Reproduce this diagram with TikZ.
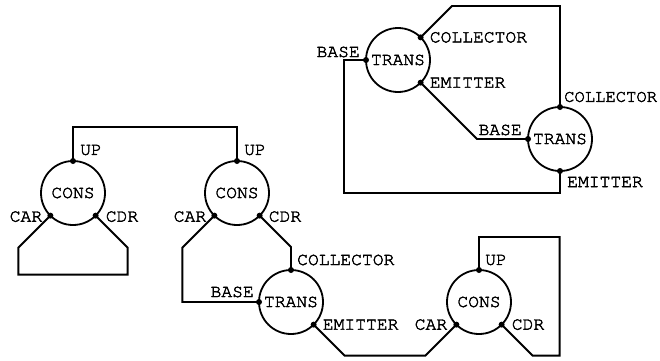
\documentclass[tikz,border=0pt]{standalone}
\usepackage{fontspec}
\setmainfont{TeX Gyre Cursor}[FakeBold=2.2]
\usetikzlibrary{calc}
\begin{document}
\begin{tikzpicture}[x=1pt,y=-1pt,
  every node/.style={font=\fontsize{18}{20}\selectfont},
  blob/.style={draw,circle,line width=1.8pt,minimum size=64pt,inner sep=0pt,outer sep=0pt},
  wire/.style={line width=1.8pt,line join=miter},
  lbl/.style={inner sep=0pt}]
\useasboundingbox (0,0) rectangle (660,360);
% circles
\node[blob] (A) at (73,193) {CONS};
\node[blob] (B) at (237,193) {CONS};
\node[blob] (C) at (291,302) {TRANS};
\node[blob] (D) at (479,302) {CONS};
\node[blob] (E) at (398,60) {TRANS};
\node[blob] (F) at (560,139) {TRANS};
% wires
\draw[wire] (A.north) -- ++(0,-34) -| (B.north);
\draw[wire] (A.-135) -- ++(-32,32) -- ++(0,27) -| ($(A.-45)+(32,32)$) -- (A.-45);
\draw[wire] (B.-135) -- ++(-32,32) |- (C.west);
\draw[wire] (B.-45) -- ($(C.north)+(0,-23)$) -- (C.north);
\draw[wire] (C.-45) -- ++(31,31) -- ($(D.-135)+(-31,31)$) -- (D.-135);
\draw[wire] (D.north) -- ++(0,-33) -| ($(D.-45)+(58,31)$) -- ++(-27,0) -- (D.-45);
\draw[wire] (E.45) -- ++(31.4,-31.4) -| (F.north);
\draw[wire] (E.-45) -- ++(56.4,56.4) -- (F.west);
\draw[wire] (F.south) -- ++(0,22) -| ($(E.west)+(-22,0)$) -- (E.west);
% port dots
\foreach \p in {A.north,A.-135,A.-45,B.north,B.-135,B.-45,C.north,C.west,C.-45,D.north,D.-135,D.-45,E.45,E.west,E.-45,F.north,F.west,F.south}
  \fill (\p) circle (3);
% labels
\node[lbl,anchor=west] (la1) at ($(A.north)+(7,-11)$) {UP};
\node[lbl,anchor=east] (la2) at ($(A.-135)+(-8,1)$) {CAR};
\node[lbl,anchor=west] (la3) at ($(A.-45)+(10,1)$) {CDR};
\node[lbl,anchor=west] (lb1) at ($(B.north)+(7,-11)$) {UP};
\node[lbl,anchor=east] (lb2) at ($(B.-135)+(-8,1)$) {CAR};
\node[lbl,anchor=west] (lb3) at ($(B.-45)+(9,1)$) {CDR};
\node[lbl,anchor=west] (lc1) at ($(C.north)+(6,-10)$) {COLLECTOR};
\node[lbl,anchor=east] (lc2) at ($(C.west)+(-5,-10)$) {BASE};
\node[lbl,anchor=west] (lc3) at ($(C.-45)+(9,0)$) {EMITTER};
\node[lbl,anchor=east] (ld2) at ($(D.-135)+(-9,0)$) {CAR};
\node[lbl,anchor=west] (ld3) at ($(D.-45)+(10,0)$) {CDR};
\node[lbl,anchor=west] (ld1) at ($(D.north)+(6,-10)$) {UP};
\node[lbl,anchor=west] (le1) at ($(E.45)+(9,0)$) {COLLECTOR};
\node[lbl,anchor=east] (le2) at ($(E.west)+(-6,-8)$) {BASE};
\node[lbl,anchor=west] (le3) at ($(E.-45)+(9,0)$) {EMITTER};
\node[lbl,anchor=west,font=\fontsize{17.2}{20}\selectfont] (lf1) at ($(F.north)+(4,-10)$) {COLLECTOR};
\node[lbl,anchor=east] (lf2) at ($(F.west)+(-6,-9)$) {BASE};
\node[lbl,anchor=west] (lf3) at ($(F.south)+(7,11)$) {EMITTER};
\end{tikzpicture}
\end{document}
